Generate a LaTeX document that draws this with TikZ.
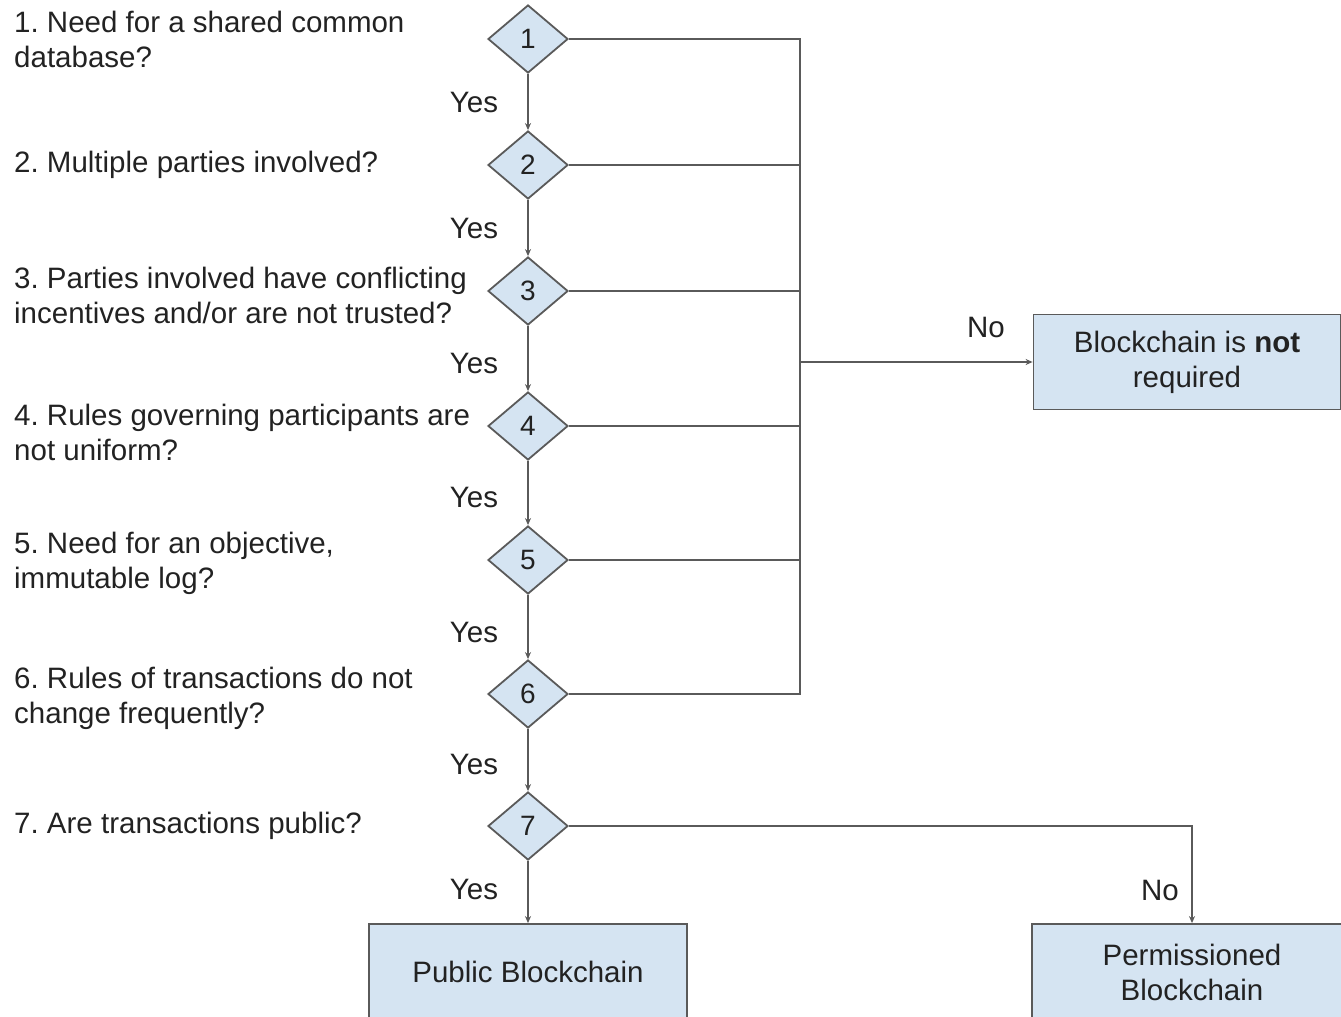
\documentclass[tikz,border=0pt]{standalone}
\usepackage{fontspec}
\setmainfont{Liberation Sans}
\usetikzlibrary{shapes.geometric,arrows.meta}
\definecolor{boxfill}{HTML}{D5E4F2}
\definecolor{edgec}{HTML}{5A5A5A}
\definecolor{ink}{HTML}{222222}
\frenchspacing
\begin{document}
\begin{tikzpicture}[x=1pt,y=-1pt,
 every node/.style={text=ink,font=\fontsize{29.5}{35}\selectfont},
 dec/.style={diamond,draw=edgec,line width=1.8pt,fill=boxfill,inner sep=0pt,minimum width=80pt,minimum height=68pt,font=\fontsize{28}{30}\selectfont},
 outbox/.style={rectangle,draw=edgec,line width=1.8pt,fill=boxfill,align=center,inner sep=0pt},
 quest/.style={anchor=west,align=left,inner sep=0pt},
 conn/.style={draw=edgec,line width=2pt},
 arr/.style={conn,-{Stealth[length=7pt,width=6pt]}}]
\clip (0,0) rectangle (1341,1017);
% questions
\node[quest] (q1) at (14,39.5) {1. Need for a shared common\\database?};
\node[quest] (q2) at (14,165) {2. Multiple parties involved?};
\node[quest] (q3) at (14,295.5) {3. Parties involved have conflicting\\incentives and/or are not trusted?};
\node[quest] (q4) at (14,432) {4. Rules governing participants are\\not uniform?};
\node[quest] (q5) at (14,563) {5. Need for an objective,\\immutable log?};
\node[quest] (q6) at (14,698) {6. Rules of transactions do not\\change frequently?};
\node[quest] (q7) at (14,826) {7. Are transactions public?};
% diamonds
\node[dec] (d1) at (528,39) {1};
\node[dec] (d2) at (528,165) {2};
\node[dec] (d3) at (528,291) {3};
\node[dec] (d4) at (528,426) {4};
\node[dec] (d5) at (528,560) {5};
\node[dec] (d6) at (528,694) {6};
\node[dec] (d7) at (528,826) {7};
% outcome boxes
\node[outbox,minimum width=307pt,minimum height=95pt] (notreq) at (1187,362) {Blockchain is \textbf{not}\\required};
\node[outbox,minimum width=318pt,minimum height=96pt] (pub) at (528,972) {Public Blockchain};
\node[outbox,minimum width=320pt,minimum height=96pt] (perm) at (1192,972) {Permissioned\\Blockchain};
% yes labels
\node (y1) at (474,102) {Yes};
\node (y2) at (474,228) {Yes};
\node (y3) at (474,363) {Yes};
\node (y4) at (474,497) {Yes};
\node (y5) at (474,632) {Yes};
\node (y6) at (474,764) {Yes};
\node (y7) at (474,889) {Yes};
\node (n1) at (986,327) {No};
\node (n2) at (1160,890) {No};
% yes chain
\draw[arr] (d1) -- (d2);
\draw[arr] (d2) -- (d3);
\draw[arr] (d3) -- (d4);
\draw[arr] (d4) -- (d5);
\draw[arr] (d5) -- (d6);
\draw[arr] (d6) -- (d7);
\draw[arr] (d7) -- (pub);
% no bus
\coordinate (bx) at (800,362);
\draw[conn] (d1.east) -| (bx);
\draw[conn] (d6.east) -| (bx);
\draw[conn] (d2.east) -- (d2.east -| bx);
\draw[conn] (d3.east) -- (d3.east -| bx);
\draw[conn] (d4.east) -- (d4.east -| bx);
\draw[conn] (d5.east) -- (d5.east -| bx);
\draw[arr] (bx) -- (notreq);
\draw[arr] (d7.east) -| (perm.north);
\end{tikzpicture}
\end{document}
